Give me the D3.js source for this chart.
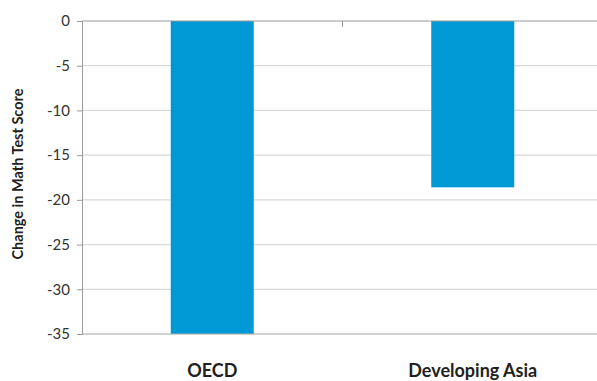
<!DOCTYPE html>
<html>
<head>
<meta charset="utf-8">
<script src="https://cdn.jsdelivr.net/npm/d3@7"></script>
<style>
  body { margin: 0; background: #fff; }
  svg { display: block; }
</style>
</head>
<body>
<svg id="chart"></svg>
<script>
const categories = ['OECD', 'Developing Asia'];
const values = [-35, -18.6];
const yTicks = [0, -5, -10, -15, -20, -25, -30, -35];

const width = 597, height = 381;
const margin = { top: 21, right: -6, bottom: 47, left: 82 };

const svg = d3.select('#chart').attr('width', width).attr('height', height);
const chart = svg.append('g').attr('transform', `translate(${margin.left}, ${margin.top})`);
const w = width - margin.left - margin.right;
const h = height - margin.top - margin.bottom;

const x = d3.scaleBand().domain(categories).range([0, w]).paddingInner(0).paddingOuter(0);
const y = d3.scaleLinear().domain([-35, 0]).range([h, 0]);

// grid lines
chart.selectAll('line.grid')
    .data(yTicks.filter(d => d !== 0 && d !== -35))
    .join('line')
    .attr('class', 'grid')
    .attr('x1', 0).attr('x2', w)
    .attr('y1', d => y(d)).attr('y2', d => y(d))
    .attr('stroke', '#d9d9d9')
    .attr('stroke-width', 1.2);

// bars
const barW = 83;
chart.selectAll('rect.bar')
    .data(values)
    .join('rect')
    .attr('class', 'bar')
    .attr('x', (d, i) => x(categories[i]) + x.bandwidth() / 2 - barW / 2)
    .attr('width', barW)
    .attr('y', d => y(0))
    .attr('height', d => y(d) - y(0))
    .attr('fill', '#0099d6');

// bottom axis line
chart.append('line')
    .attr('x1', 0).attr('x2', w)
    .attr('y1', y(-35)).attr('y2', y(-35))
    .attr('stroke', '#a6a6a6').attr('stroke-width', 1);

// zero line with category tick
chart.append('line')
    .attr('x1', 0).attr('x2', w)
    .attr('y1', y(0)).attr('y2', y(0))
    .attr('stroke', '#999').attr('stroke-width', 1);
chart.append('line')
    .attr('x1', x.bandwidth()).attr('x2', x.bandwidth())
    .attr('y1', y(0)).attr('y2', y(0) + 6)
    .attr('stroke', '#999').attr('stroke-width', 1);

// y axis
const yAxis = chart.append('g')
    .call(d3.axisLeft(y).tickValues(yTicks).tickSize(5).tickPadding(7).tickFormat(d => d === 0 ? '0' : '-' + Math.abs(d)));
yAxis.select('.domain').attr('stroke', '#999');
yAxis.selectAll('.tick line').attr('stroke', '#999');
yAxis.selectAll('.tick text')
    .attr('fill', '#333')
    .attr('font-family', 'Lato, "Open Sans", sans-serif')
    .attr('font-size', '15px');

// category labels
chart.selectAll('text.cat')
    .data(categories)
    .join('text')
    .attr('class', 'cat')
    .attr('x', d => x(d) + x.bandwidth() / 2)
    .attr('y', h + 43)
    .attr('text-anchor', 'middle')
    .attr('font-family', 'Lato, "Open Sans", sans-serif')
    .attr('font-weight', 'bold')
    .attr('font-size', '18px')
    .attr('fill', '#231f20')
    .text(d => d);

// y title
svg.append('text')
    .attr('transform', `translate(23, 174) rotate(-90)`)
    .attr('text-anchor', 'middle')
    .attr('font-family', 'Lato, "Open Sans", sans-serif')
    .attr('font-weight', 'bold')
    .attr('font-size', '14.5px')
    .attr('fill', '#231f20')
    .text('Change  in Math Test Score');
</script>
</body>
</html>
